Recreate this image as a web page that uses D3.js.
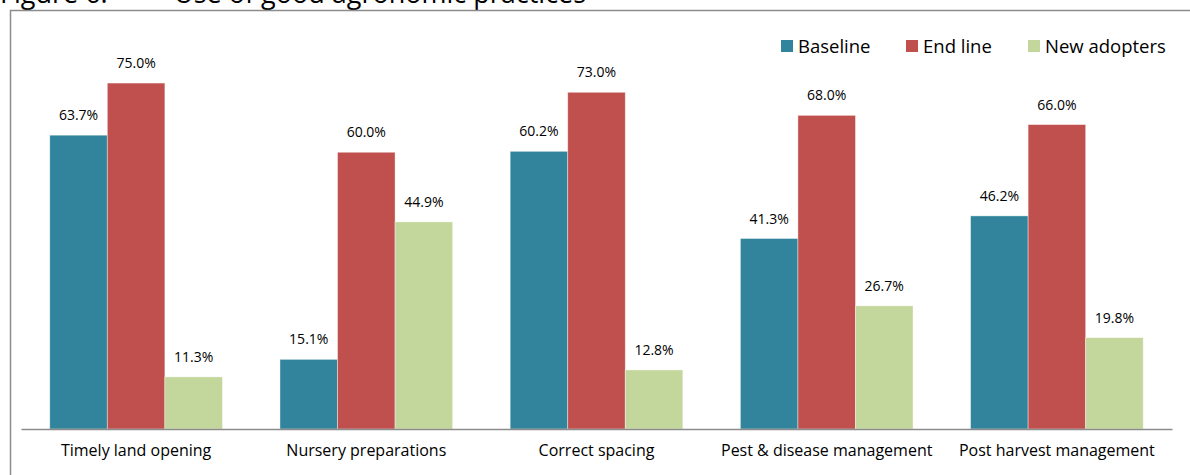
<!DOCTYPE html>
<html>
<head>
<meta charset="utf-8">
<script src="https://cdn.jsdelivr.net/npm/d3@7"></script>
<style>
  html, body { margin: 0; padding: 0; background: #fff; }
  svg { display: block; font-family: "Open Sans", Carlito, Calibri, sans-serif; }
</style>
</head>
<body>
<svg id="chart" width="1190" height="475"></svg>
<script>
// Share of farmers using each practice (%)
const categories = ["Timely land opening", "Nursery preparations", "Correct spacing", "Pest & disease management", "Post harvest management"];
const seriesNames = ["Baseline", "End line", "New adopters"];
const baseline = [63.7, 15.1, 60.2, 41.3, 46.2];
const endLine = [75.0, 60.0, 73.0, 68.0, 66.0];
const newAdopters = [11.3, 44.9, 12.8, 26.7, 19.8];
const seriesColors = ["#31849B", "#C0504D", "#C3D69B"];

const values = [baseline, endLine, newAdopters];
const rows = categories.map((c, i) => ({
  category: c,
  bars: seriesNames.map((s, j) => ({ series: s, value: values[j][i], color: seriesColors[j] }))
}));

const svg = d3.select("#chart");

// Figure caption, running off the top edge
svg.append("text").attr("x", 0).attr("y", 3)
  .attr("font-size", 27).attr("fill", "#000").text("Figure 6:");
svg.append("text").attr("x", 174).attr("y", 3)
  .attr("font-size", 27).attr("fill", "#000").text("Use of good agronomic practices");

// Chart frame
svg.append("path")
  .attr("d", "M10.5,480 V10.5 H1195")
  .attr("fill", "none").attr("stroke", "#8c8c8c").attr("stroke-width", 1.5);

const x0 = d3.scaleBand().domain(categories).range([21, 1172])
  .paddingInner(0.25).paddingOuter(0.125);
const x1 = d3.scaleBand().domain(seriesNames).range([0, x0.bandwidth()]);
const y = d3.scaleLinear().domain([0, 80]).range([429, 60]);

const groups = svg.append("g").selectAll("g").data(rows).join("g")
  .attr("transform", d => `translate(${x0(d.category)},0)`);

groups.selectAll("rect").data(d => d.bars).join("rect")
  .attr("x", d => x1(d.series))
  .attr("y", d => y(d.value))
  .attr("width", x1.bandwidth())
  .attr("height", d => y(0) - y(d.value))
  .attr("fill", d => d.color)
  .attr("stroke", "#ffffff").attr("stroke-opacity", 0.5).attr("stroke-width", 0.8);

groups.selectAll("text.val").data(d => d.bars).join("text")
  .attr("class", "val")
  .attr("x", d => x1(d.series) + x1.bandwidth() / 2)
  .attr("y", d => y(d.value) - 15)
  .attr("text-anchor", "middle")
  .attr("font-size", 14).attr("fill", "#000")
  .text(d => d.value.toFixed(1) + "%");

// Category axis
const xAxis = svg.append("g").attr("transform", `translate(0,${y(0)})`)
  .call(d3.axisBottom(x0).tickSize(0).tickPadding(16));
xAxis.select(".domain").attr("stroke", "#8c8c8c").attr("stroke-width", 1.5);
xAxis.selectAll("text").attr("font-size", 16).attr("fill", "#000")
  .attr("font-family", "'Open Sans', Carlito, Calibri, sans-serif");

// Legend
const legendX = [781, 906, 1028];
const legend = svg.append("g").selectAll("g").data(seriesNames).join("g")
  .attr("transform", (d, i) => `translate(${legendX[i]},40)`);
legend.append("rect").attr("width", 12).attr("height", 12)
  .attr("fill", (d, i) => seriesColors[i]);
legend.append("text").attr("x", 17).attr("y", 12.5)
  .attr("font-size", 18.5).attr("fill", "#000").text(d => d);
</script>
</body>
</html>
